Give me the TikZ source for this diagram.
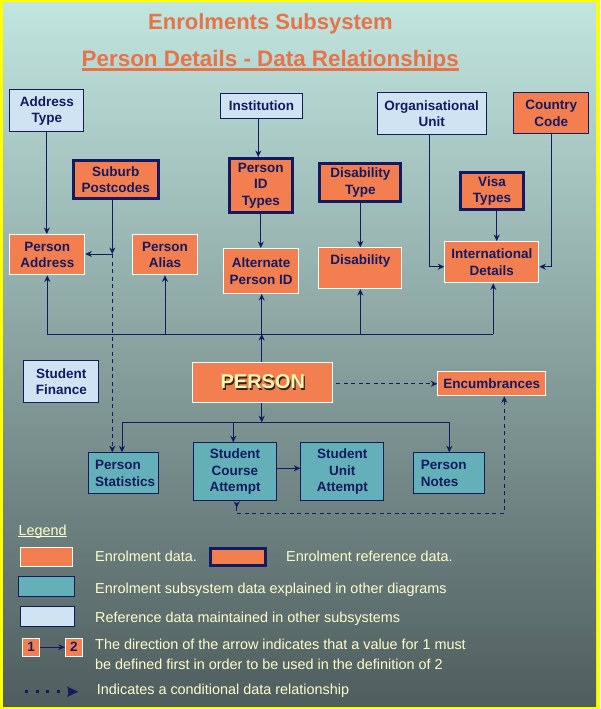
\documentclass[tikz,border=0pt]{standalone}
\usepackage{fontspec}
\setmainfont{Liberation Sans}
\usetikzlibrary{arrows.meta,calc}
\definecolor{orangeF}{RGB}{243,126,79}
\definecolor{tealF}{RGB}{99,176,184}
\definecolor{lblueF}{RGB}{207,227,243}
\definecolor{navy}{RGB}{20,26,96}
\definecolor{legyellow}{RGB}{255,255,204}
\definecolor{titleor}{RGB}{231,115,72}
\definecolor{personyellow}{RGB}{255,248,176}
\definecolor{pshadow}{RGB}{50,36,28}
\definecolor{bgtop}{RGB}{193,229,223}
\definecolor{bgmid}{RGB}{137,166,162}
\definecolor{bgbot}{RGB}{78,93,93}
\definecolor{frameyellow}{RGB}{255,255,0}
\begin{document}
\begin{tikzpicture}[x=1pt,y=-1pt,
  every node/.style={inner sep=0pt},
  boxtext/.style={align=center, text=navy, font=\bfseries\fontsize{13.5}{16.5}\selectfont},
  obox/.style={boxtext, fill=orangeF, draw=white, line width=1pt},
  onbox/.style={boxtext, fill=orangeF, draw=navy, line width=1pt},
  refbox/.style={boxtext, fill=orangeF, draw=navy, line width=3pt},
  tbox/.style={boxtext, fill=tealF, draw=navy, line width=1pt},
  lbox/.style={boxtext, fill=lblueF, draw=navy, line width=1pt},
  conn/.style={draw=navy, line width=0.9pt},
  arr/.style={conn, -{Stealth[length=6.5pt,width=6pt,inset=2pt]}},
  dasharr/.style={arr, dash pattern=on 4pt off 3.5pt},
  legtxt/.style={anchor=base west, text=legyellow, font=\fontsize{14.4}{17}\selectfont},
  titletxt/.style={anchor=base, text=titleor, font=\bfseries\fontsize{22}{26}\selectfont}]
\useasboundingbox (0,0) rectangle (600,709);
\fill[frameyellow] (0,0) rectangle (600,709);
\shade[top color=bgtop, middle color=bgmid, bottom color=bgbot] (3,3) rectangle (596,706.5);

% titles
\node[titletxt] (t1) at (270.5,30) {Enrolments Subsystem};
\node[titletxt, font=\bfseries\fontsize{22.4}{26}\selectfont] (t2) at (270.3,66.5) {Person Details - Data Relationships};
\draw[titleor, line width=2pt] ([yshift=-3pt]t2.base west) -- ([yshift=-3pt]t2.base east);

% boxes
\node[lbox, minimum width=74, minimum height=42] (addrtype) at (46.8,110.8) {Address\\Type};
\node[lbox, minimum width=82, minimum height=25] (inst) at (261.5,106) {Institution};
\node[lbox, minimum width=109, minimum height=42] (org) at (431.7,113.8) {Organisational\\Unit};
\node[onbox, minimum width=75, minimum height=41] (country) at (551.3,113.3) {Country\\Code};
\node[refbox, minimum width=85.3, minimum height=38] (sub) at (115.8,179.5) {Suburb\\Postcodes};
\node[refbox, minimum width=63.3, minimum height=54] (pidt) at (260.8,185.5) {Person\\ID\\Types};
\node[refbox, minimum width=81, minimum height=38.6] (dtype) at (360.3,182.5) {Disability\\Type};
\node[refbox, minimum width=63.6, minimum height=37.3] (visa) at (492,190.8) {Visa\\Types};
\node[obox, minimum width=75, minimum height=40.3] (paddr) at (47.3,254.7) {Person\\Address};
\node[obox, minimum width=65.6, minimum height=40.3] (palias) at (165,254.7) {Person\\Alias};
\node[obox, minimum width=75.5, minimum height=45] (alt) at (261.2,271) {Alternate\\Person ID};
\node[obox, minimum width=83, minimum height=40.7] (disab) at (360.3,268.2) {Disability\\\mbox{}};
\node[obox, minimum width=94, minimum height=41.3] (intl) at (491.8,262.2) {International\\Details};
\node[lbox, minimum width=75, minimum height=42] (sfin) at (61.3,381.8) {Student\\Finance};
\node[obox, minimum width=140, minimum height=40.6, text=personyellow, font=\bfseries\fontsize{20}{24}\selectfont] (person) at (262.8,382.5)
  {\makebox[0pt][l]{\hspace{1.3pt}\raisebox{-1.3pt}{\color{pshadow}PERSON}}PERSON};
\node[obox, minimum width=108, minimum height=24] (enc) at (491.8,383.8) {Encumbrances};
\node[tbox, minimum width=70, minimum height=41, text width=57.6, align=left] (pstat) at (123.8,473.3) {Person\\Statistics};
\node[tbox, minimum width=82.4, minimum height=58] (sca) at (235,471.8) {Student\\Course\\Attempt};
\node[tbox, minimum width=83, minimum height=58] (sua) at (342.3,471.8) {Student\\Unit\\Attempt};
\node[tbox, minimum width=71, minimum height=41, text width=57, align=left] (notes) at (449.3,473.3) {Person\\Notes};

% helper coordinates
\coordinate (instout) at ([xshift=-3.2pt]inst.south);
\coordinate (visaout) at ([xshift=4.7pt]visa.south);
\coordinate (orgout) at ([xshift=-2.7pt]org.south);
\coordinate (intlw) at ([yshift=-4.5pt]intl.west);
\coordinate (intle) at ([yshift=-4.5pt]intl.east);
\coordinate (subj) at (112.3,254);
\coordinate (busU) at (261.7,334);
\coordinate (busL) at (261.7,422.3);
\coordinate (intld) at ([xshift=1.5pt]intl.south);
\coordinate (pstatd) at ([xshift=-1.8pt]pstat.north);
\coordinate (scad) at ([xshift=-1.7pt]sca.north);
\coordinate (scae) at ([yshift=3.5pt]sca.east);
\coordinate (encin) at ([xshift=12.5pt]enc.south);
\coordinate (scaout) at ([xshift=1.7pt]sca.south);
\coordinate (loopY) at (0,513.3);

% upper connectors
\draw[arr] (addrtype.south) -- (addrtype.south |- paddr.north);
\draw[arr] (instout) -- (instout |- pidt.north);
\draw[arr] (pidt.south) -- (pidt.south |- alt.north);
\draw[arr] (dtype.south) -- (dtype.south |- disab.north);
\draw[arr] (visaout) -- (visaout |- intl.north);
\draw[arr] (orgout) |- (intlw);
\draw[arr] (country.south) |- (intle);
\draw[arr] (sub.south -| subj) -- (subj);
\draw[arr] (subj) -- (subj -| paddr.east);
\draw[dasharr] (subj) -- (subj |- pstat.north);

% upper bus
\draw[conn] (paddr.south |- busU) -- (intld |- busU);
\draw[arr] (person.north -| busU) -- (busU);
\draw[arr] (busU) -- (busU |- alt.south);
\draw[arr] (paddr.south |- busU) -- (paddr.south);
\draw[arr] (palias.south |- busU) -- (palias.south);
\draw[arr] (disab.south |- busU) -- (disab.south);
\draw[arr] (intld |- busU) -- (intld);

% lower bus
\draw[arr] (person.south -| busL) -- (busL);
\draw[conn] (pstatd |- busL) -- (notes.north |- busL);
\draw[arr] (pstatd |- busL) -- (pstatd);
\draw[arr] (scad |- busL) -- (scad);
\draw[arr] (notes.north |- busL) -- (notes.north);
\draw[arr] (scae) -- (scae -| sua.west);

% conditional
\draw[dasharr, shorten <=3pt] (person.east |- enc.west) -- (enc.west);
\draw[conn, dash pattern=on 4pt off 3.5pt, {Stealth[length=6.5pt,width=6pt,inset=2pt,reversed]}-{Stealth[length=6.5pt,width=6pt,inset=2pt]}]
  (scaout) |- (loopY -| encin) -- (encin);

% legend
\node[legtxt] (leg) at (18.3,535) {Legend};
\draw[legyellow, line width=0.8pt] ([yshift=-1.8pt]leg.base west) -- ([yshift=-1.8pt]leg.base east);
\node[obox, minimum width=51.4, minimum height=19] (lg1) at (46.5,557.3) {};
\node[legtxt] (lt1) at (95,561.3) {Enrolment data.};
\node[refbox, minimum width=54.7, minimum height=17] (lg2) at (237.8,557.3) {};
\node[legtxt] (lt2) at (286,561.5) {Enrolment reference data.};
\node[tbox, minimum width=55.4, minimum height=20.3] (lg3) at (46.5,586.7) {};
\node[legtxt] (lt3) at (95,593.3) {Enrolment subsystem data explained in other diagrams};
\node[lbox, minimum width=54, minimum height=20] (lg4) at (47.8,616.8) {};
\node[legtxt] (lt4) at (95,622.3) {Reference data maintained in other subsystems};
\node[obox, minimum width=17.3, minimum height=18] (n1) at (31.2,647.2) {1};
\node[obox, minimum width=17.3, minimum height=18] (n2) at (74,647.2) {2};
\draw[arr] (n1) -- (n2);
\node[legtxt] (lt5) at (95,649.5) {The direction of the arrow indicates that a value for 1 must};
\node[legtxt] (lt6) at (95,669.6) {be defined first in order to be used in the definition of 2};
\coordinate (dotS) at (25,691.7);
\coordinate (dotE) at (78.3,691.7);
\draw[navy, line width=3pt, dash pattern=on 3pt off 7.7pt, -{Stealth[length=11pt,width=10pt,inset=2pt]}] (dotS) -- (dotE);
\node[legtxt] (lt7) at (96.7,694.3) {Indicates a conditional data relationship};
\end{tikzpicture}
\end{document}
